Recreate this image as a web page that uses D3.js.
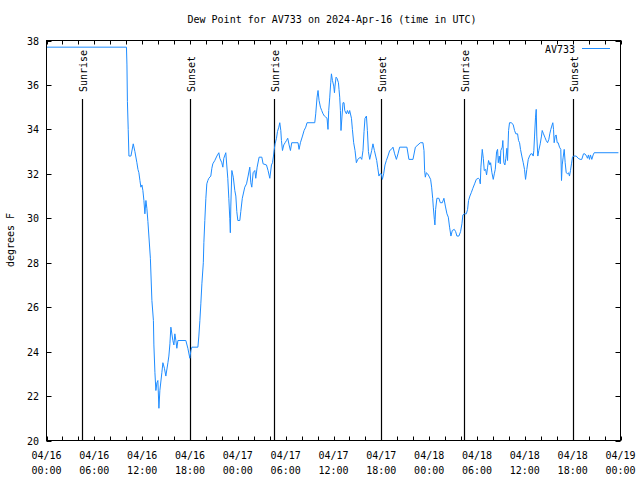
<!DOCTYPE html>
<html>
<head>
<meta charset="utf-8">
<script src="https://cdn.jsdelivr.net/npm/d3@7"></script>
<style>
  body { margin: 0; background: #fff; }
  text { font-family: "DejaVu Sans Mono", monospace; font-size: 10px; fill: #000; }
</style>
</head>
<body>
<div id="container"></div>
<script>
// dew point readings, hours after 2024-04-16 00:00 UTC
let hrs = [0, 10.03, 10.09, 10.15, 10.25, 10.34, 10.59, 10.88, 11.09, 11.34, 11.47, 11.59, 11.72, 11.84, 11.97, 12.09, 12.22, 12.34, 12.47, 12.59, 12.72,
  13.03, 13.22, 13.41, 13.47, 13.6, 13.72, 13.85, 13.97, 14.1, 14.22, 14.47, 14.6, 14.79, 14.97, 15.23, 15.35, 15.48, 15.6, 15.85, 15.98, 16.1, 16.23, 16.35, 16.48,
  17.48, 17.73, 17.98, 18.11, 18.23, 18.99, 19.11, 19.24, 19.36, 19.49, 19.67, 19.74, 19.86, 19.99, 20.11, 20.24, 20.36, 20.61, 20.74, 20.86, 21.11, 21.37, 21.62,
  21.74, 21.99, 22.12, 22.24, 22.49, 22.74, 22.87, 22.99, 23.06, 23.12, 23.25, 23.43, 23.62, 23.75, 23.87, 24.0, 24.25, 24.37, 24.56, 24.87, 25.09, 25.29, 25.5,
  25.63, 25.75, 25.92, 26.13, 26.25, 26.42, 26.67, 27.01, 27.17, 27.59, 27.79, 28.01, 28.22, 28.35, 28.47, 28.55, 28.67, 28.85, 28.97, 29.14, 29.26, 29.39, 29.47,
  29.6, 29.76, 29.93, 30.1, 30.26, 30.43, 30.6, 30.76, 31.55, 31.68, 31.85, 32.11, 32.31, 32.52, 32.68, 33.65, 33.77, 33.94, 34.06, 34.19, 34.36, 34.52, 34.69,
  34.86, 35.03, 35.19, 35.31, 35.4, 35.53, 35.65, 35.74, 35.87, 36.03, 36.12, 36.19, 36.32, 36.44, 36.62, 36.69, 36.78, 36.87, 36.94, 37.07, 37.19, 37.32, 37.41,
  37.62, 37.75, 37.91, 38.03, 38.25, 38.37, 38.53, 38.7, 38.87, 39.04, 39.37, 39.54, 39.7, 39.83, 39.95, 40.13, 40.25, 40.38, 40.54, 40.79, 40.95, 41.13, 41.29,
  41.42, 41.54, 41.7, 41.83, 42.0, 42.13, 42.29, 42.46, 42.63, 42.83, 43.05, 43.26, 43.46, 43.67, 43.89, 44.09, 44.3, 45.21, 45.46, 45.97, 46.27, 46.59, 46.89,
  47.22, 47.35, 47.43, 47.52, 47.65, 47.81, 47.97, 48.18, 48.31, 48.44, 48.52, 48.65, 48.72, 48.81, 48.97, 49.22, 49.4, 49.65, 49.85, 50.03, 50.23, 50.4, 50.56,
  50.73, 50.9, 51.15, 51.32, 51.48, 51.73, 51.94, 52.11, 52.23, 52.44, 52.66, 52.82, 52.94, 53.11, 53.28, 53.48, 53.7, 53.91, 54.16, 54.32, 54.41, 54.49, 54.66,
  54.79, 54.91, 55.08, 55.2, 55.33, 55.45, 55.62, 55.71, 55.87, 56.04, 56.17, 56.29, 56.46, 56.58, 56.67, 56.79, 56.92, 56.99, 57.17, 57.24, 57.37, 57.5, 57.62,
  57.75, 57.83, 57.96, 58.08, 58.33, 58.55, 58.71, 58.87, 59.09, 59.21, 59.34, 59.46, 59.62, 59.8, 59.96, 60.09, 60.25, 60.43, 60.59, 60.75, 60.93, 61.05, 61.13,
  61.22, 61.34, 61.43, 61.5, 61.63, 61.75, 61.93, 62.09, 62.18, 62.34, 62.51, 62.68, 62.85, 63.01, 63.13, 63.26, 63.38, 63.51, 63.6, 63.68, 63.81, 63.93, 64.06,
  64.18, 64.35, 64.51, 64.6, 64.69, 64.81, 64.94, 65.06, 65.19, 65.35, 65.48, 65.6, 65.73, 65.85, 65.98, 66.1, 66.44, 66.69, 66.94, 67.14, 67.36, 67.53, 67.74,
  67.86, 67.98, 68.11, 68.23, 68.4, 68.57, 68.7, 71.74];
let dewF = [37.7, 37.7, 36.9, 35.25, 34.0, 32.8, 32.8, 33.35, 33.0, 32.5, 32.2, 32.05, 31.7, 31.4, 31.5, 31.25, 30.8, 30.2, 30.8, 30.45, 29.85,
  28.2, 26.3, 25.4, 24.3, 23.05, 22.25, 22.6, 22.7, 21.45, 22.25, 23.05, 23.5, 23.25, 22.9, 23.5, 23.8, 24.35, 25.1, 24.5, 24.3, 24.8, 24.5, 24.15, 24.5,
  24.5, 24.15, 23.7, 24.05, 24.2, 24.2, 24.7, 25.4, 26.15, 27.05, 28.0, 28.9, 29.9, 30.9, 31.55, 31.7, 31.8, 31.9, 32.25, 32.45, 32.6, 32.8, 32.95,
  32.7, 32.5, 32.3, 32.7, 32.95, 31.8, 30.9, 30.0, 29.35, 30.55, 32.15, 31.85, 31.25, 31.0, 30.3, 29.9, 29.9, 30.3, 30.9, 31.4, 31.55, 31.9, 32.3,
  31.6, 31.4, 32.05, 32.15, 31.8, 32.3, 32.75, 32.75, 32.45, 32.4, 32.15, 31.8, 32.4, 32.5, 32.8, 33.05, 33.35, 33.6, 33.9, 34.1, 34.3, 33.95, 33.5,
  33.05, 33.3, 33.4, 33.5, 33.6, 33.3, 33.05, 33.4, 33.4, 33.1, 33.4, 33.7, 33.95, 34.1, 34.3, 34.3, 34.7, 35.45, 35.75, 35.3, 35.0, 34.85, 34.7,
  34.6, 34.55, 34.5, 34.0, 34.85, 35.45, 36.1, 36.5, 36.2, 35.95, 35.65, 35.95, 36.35, 36.3, 36.1, 35.8, 35.45, 34.85, 33.95, 34.6, 35.2, 35.2, 34.85,
  34.7, 34.85, 34.7, 34.85, 34.5, 34.0, 33.4, 33.05, 32.5, 32.65, 32.75, 32.65, 33.05, 33.9, 34.5, 34.6, 33.95, 33.0, 32.65, 33.05, 33.35, 33.05, 32.8,
  32.6, 32.3, 31.9, 32.0, 32.0, 31.75, 32.0, 32.4, 32.6, 32.8, 33.05, 33.1, 33.2, 32.9, 32.65, 32.9, 33.2, 33.2, 32.65, 32.65, 33.2, 33.3, 33.4,
  33.4, 33.05, 32.15, 31.85, 32.05, 32.0, 31.9, 31.75, 31.4, 30.9, 30.5, 29.95, 29.7, 30.4, 30.9, 30.9, 30.7, 30.7, 30.9, 30.55, 30.2, 30.05, 29.6,
  29.2, 29.45, 29.5, 29.4, 29.2, 29.2, 29.4, 29.75, 30.15, 30.2, 30.2, 30.4, 30.8, 31.0, 31.15, 31.35, 31.55, 31.75, 31.8, 31.75, 31.55, 32.3, 33.1,
  32.7, 32.15, 32.2, 31.95, 32.3, 32.6, 32.4, 32.5, 32.05, 31.75, 32.0, 32.2, 33.0, 33.1, 32.5, 32.8, 32.45, 33.05, 33.2, 33.5, 32.5, 32.4, 32.7,
  33.15, 32.6, 33.95, 34.3, 34.3, 34.2, 33.95, 33.8, 33.8, 33.5, 33.4, 33.1, 32.8, 32.5, 32.2, 31.75, 32.2, 32.65, 32.8, 32.9, 32.9, 32.8, 33.05,
  33.7, 34.55, 34.9, 33.7, 32.8, 33.05, 33.35, 33.7, 33.95, 33.8, 33.65, 33.5, 33.4, 33.55, 33.8, 34.0, 34.15, 34.3, 34.0, 33.4, 33.7, 33.75, 33.4,
  33.4, 33.2, 33.1, 31.7, 32.4, 32.75, 33.1, 32.5, 32.05, 32.0, 32.05, 31.9, 32.15, 32.45, 32.75, 32.8, 32.8, 32.7, 32.65, 32.65, 32.9, 32.9, 32.8,
  32.7, 32.85, 32.65, 32.85, 32.65, 32.85, 32.95, 32.95];

let sunTimes = ["2024-04-16T04:27Z", "2024-04-16T17:59Z", "2024-04-17T04:30Z", "2024-04-17T17:56Z", "2024-04-18T04:21Z", "2024-04-18T18:00Z"];
let sunLabels = ["Sunrise", "Sunset", "Sunrise", "Sunset", "Sunrise", "Sunset"];
let yTicks = [20, 22, 24, 26, 28, 30, 32, 34, 36, 38];

let w = 640;
let h = 480;
let plotLeft = 46.5, plotRight = 620.5, plotTop = 40.5, plotBottom = 440.5;
let lineColor = "#1e8cff";

let t0 = Date.UTC(2024, 3, 16);
let data = hrs.map(function(d, i){
  return { t: new Date(t0 + d * 3600e3), v: dewF[i] };
});

let viz = d3.select("#container")
  .append("svg")
    .attr("width", w)
    .attr("height", h)
    .style("background-color", "white")
;

let xScale = d3.scaleUtc().domain([new Date(t0), new Date(t0 + 72 * 3600e3)]).range([plotLeft, plotRight]);
let yScale = d3.scaleLinear().domain([20, 38]).range([plotBottom, plotTop]);

// title
viz.append("text")
  .attr("x", 332).attr("y", 23)
  .attr("text-anchor", "middle")
  .text("Dew Point for AV733 on 2024-Apr-16 (time in UTC)");

// y label
viz.append("text")
  .attr("transform", "translate(14, 240) rotate(-90)")
  .attr("text-anchor", "middle")
  .text("degrees F");

// ticks, all pointing inside the box
let xMinor = d3.utcHour.every(2).range(new Date(t0), new Date(t0 + 72 * 3600e3 + 1));
let xMajor = d3.utcHour.every(6).range(new Date(t0), new Date(t0 + 72 * 3600e3 + 1));
let tickG = viz.append("g").attr("stroke", "black").attr("stroke-width", 1);
xMinor.forEach(function(d){
  let x = Math.round(xScale(d)) + 0.5;
  tickG.append("line").attr("x1", x).attr("x2", x).attr("y1", plotBottom).attr("y2", plotBottom - 4);
  tickG.append("line").attr("x1", x).attr("x2", x).attr("y1", plotTop).attr("y2", plotTop + 4);
});
yTicks.forEach(function(d){
  let y = Math.round(yScale(d)) + 0.5;
  tickG.append("line").attr("x1", plotLeft).attr("x2", plotLeft + 5).attr("y1", y).attr("y2", y);
  tickG.append("line").attr("x1", plotRight).attr("x2", plotRight - 5).attr("y1", y).attr("y2", y);
});

// x labels, two lines
let fmtDay = d3.utcFormat("%m/%d");
let fmtTime = d3.utcFormat("%H:%M");
xMajor.forEach(function(d){
  let t = viz.append("text")
    .attr("text-anchor", "middle")
    .attr("x", xScale(d));
  t.append("tspan").attr("x", xScale(d)).attr("y", 459).text(fmtDay(d));
  t.append("tspan").attr("x", xScale(d)).attr("y", 474).text(fmtTime(d));
});

// y labels
yTicks.forEach(function(d){
  viz.append("text")
    .attr("x", 39).attr("y", yScale(d) + 4)
    .attr("text-anchor", "end")
    .text(d);
});

// sunrise / sunset markers
sunTimes.forEach(function(s, i){
  let x = Math.round(xScale(new Date(s))) + 0.5;
  viz.append("line")
    .attr("x1", x).attr("x2", x)
    .attr("y1", 99).attr("y2", plotBottom)
    .attr("stroke", "black").attr("stroke-width", 1.2);
  viz.append("text")
    .attr("transform", "translate(" + (x + 4) + ", 92) rotate(-90)")
    .attr("text-anchor", "start")
    .text(sunLabels[i]);
});

// the series
let line = d3.line()
  .x(function(d){ return xScale(d.t); })
  .y(function(d){ return yScale(d.v); });

viz.append("path")
  .datum(data)
  .attr("d", line)
  .attr("fill", "none")
  .attr("stroke", lineColor)
  .attr("stroke-width", 1);

// legend
viz.append("text")
  .attr("x", 575).attr("y", 53)
  .attr("text-anchor", "end")
  .text("AV733");
viz.append("line")
  .attr("x1", 582).attr("x2", 610)
  .attr("y1", 48.5).attr("y2", 48.5)
  .attr("stroke", lineColor).attr("stroke-width", 1);

// border
viz.append("rect")
  .attr("x", plotLeft).attr("y", plotTop)
  .attr("width", plotRight - plotLeft).attr("height", plotBottom - plotTop)
  .attr("fill", "none").attr("stroke", "black").attr("stroke-width", 1);
</script>
</body>
</html>
